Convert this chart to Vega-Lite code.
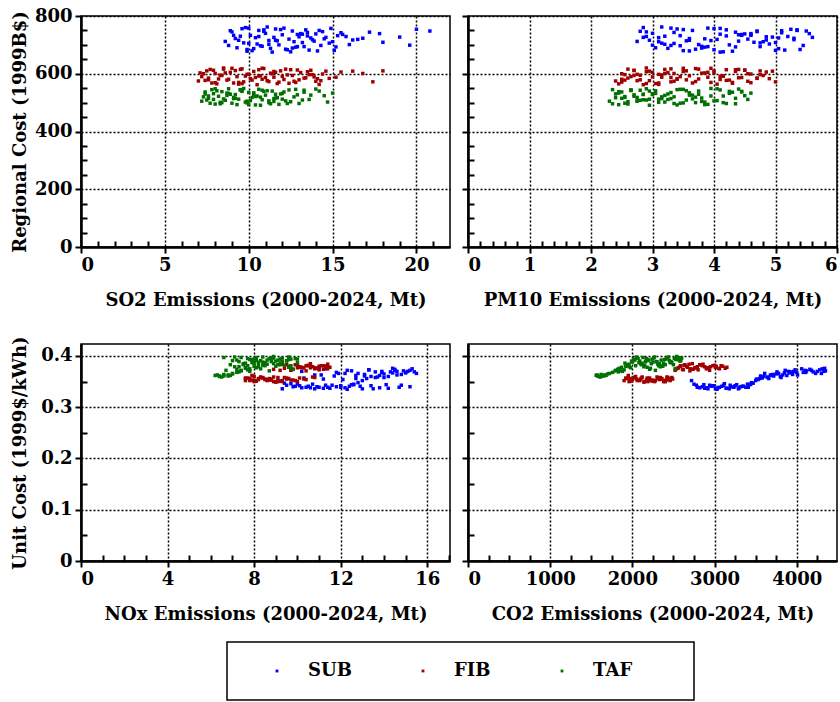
{
"$schema": "https://vega.github.io/schema/vega-lite/v6.json",
"background": "white",
"padding": {"left": 10, "top": 6, "right": 0, "bottom": 0},
"datasets": {"d": [
{"g":"SUB","so2":8.6,"pm10":2.75,"nox":9.1,"co2":2720,"rc":712,"uc":0.352},
{"g":"SUB","so2":9.0,"pm10":2.9,"nox":9.5,"co2":2780,"rc":745,"uc":0.343},
{"g":"SUB","so2":9.3,"pm10":3.05,"nox":9.8,"co2":2850,"rc":690,"uc":0.340},
{"g":"SUB","so2":9.5,"pm10":3.2,"nox":10.2,"co2":2900,"rc":730,"uc":0.338},
{"g":"SUB","so2":9.8,"pm10":2.85,"nox":10.5,"co2":2960,"rc":760,"uc":0.341},
{"g":"SUB","so2":10.0,"pm10":3.35,"nox":10.8,"co2":3010,"rc":705,"uc":0.336},
{"g":"SUB","so2":10.2,"pm10":3.5,"nox":11.0,"co2":3060,"rc":680,"uc":0.339},
{"g":"SUB","so2":10.4,"pm10":3.1,"nox":11.3,"co2":3110,"rc":725,"uc":0.343},
{"g":"SUB","so2":10.6,"pm10":3.65,"nox":11.5,"co2":3150,"rc":750,"uc":0.337},
{"g":"SUB","so2":10.8,"pm10":3.8,"nox":11.8,"co2":3200,"rc":695,"uc":0.340},
{"g":"SUB","so2":11.0,"pm10":3.0,"nox":12.0,"co2":3250,"rc":740,"uc":0.342},
{"g":"SUB","so2":11.2,"pm10":3.95,"nox":12.2,"co2":3300,"rc":715,"uc":0.338},
{"g":"SUB","so2":11.4,"pm10":4.1,"nox":12.4,"co2":3350,"rc":675,"uc":0.341},
{"g":"SUB","so2":11.6,"pm10":3.4,"nox":12.6,"co2":3400,"rc":755,"uc":0.345},
{"g":"SUB","so2":11.8,"pm10":4.25,"nox":12.8,"co2":3450,"rc":700,"uc":0.348},
{"g":"SUB","so2":12.0,"pm10":4.4,"nox":13.0,"co2":3500,"rc":735,"uc":0.352},
{"g":"SUB","so2":12.2,"pm10":3.7,"nox":13.2,"co2":3550,"rc":685,"uc":0.356},
{"g":"SUB","so2":12.4,"pm10":4.55,"nox":13.4,"co2":3600,"rc":720,"uc":0.360},
{"g":"SUB","so2":12.6,"pm10":4.7,"nox":13.6,"co2":3650,"rc":748,"uc":0.358},
{"g":"SUB","so2":12.8,"pm10":3.85,"nox":13.8,"co2":3700,"rc":692,"uc":0.362},
{"g":"SUB","so2":13.0,"pm10":4.85,"nox":14.0,"co2":3750,"rc":728,"uc":0.365},
{"g":"SUB","so2":13.2,"pm10":5.0,"nox":14.2,"co2":3800,"rc":708,"uc":0.360},
{"g":"SUB","so2":13.4,"pm10":4.2,"nox":14.4,"co2":3850,"rc":752,"uc":0.367},
{"g":"SUB","so2":13.6,"pm10":5.15,"nox":14.6,"co2":3900,"rc":682,"uc":0.370},
{"g":"SUB","so2":13.8,"pm10":5.3,"nox":14.8,"co2":3950,"rc":718,"uc":0.364},
{"g":"SUB","so2":14.0,"pm10":4.5,"nox":15.0,"co2":4000,"rc":738,"uc":0.368},
{"g":"SUB","so2":14.3,"pm10":5.45,"nox":15.2,"co2":4100,"rc":698,"uc":0.372},
{"g":"SUB","so2":14.6,"pm10":5.6,"nox":15.4,"co2":4200,"rc":726,"uc":0.369},
{"g":"SUB","so2":15.0,"pm10":4.8,"nox":15.5,"co2":4300,"rc":711,"uc":0.366},
{"g":"SUB","so2":15.5,"pm10":5.1,"nox":12.5,"co2":4350,"rc":742,"uc":0.371},
{"g":"SUB","so2":8.8,"pm10":3.3,"nox":10.0,"co2":2750,"rc":698,"uc":0.345},
{"g":"SUB","so2":9.2,"pm10":3.6,"nox":10.6,"co2":2820,"rc":722,"uc":0.338},
{"g":"SUB","so2":9.6,"pm10":4.0,"nox":11.2,"co2":2880,"rc":756,"uc":0.337},
{"g":"SUB","so2":9.9,"pm10":4.3,"nox":11.6,"co2":2940,"rc":678,"uc":0.343},
{"g":"SUB","so2":10.1,"pm10":4.6,"nox":12.3,"co2":3030,"rc":733,"uc":0.335},
{"g":"SUB","so2":10.5,"pm10":4.9,"nox":12.9,"co2":3090,"rc":703,"uc":0.341},
{"g":"SUB","so2":10.9,"pm10":2.8,"nox":13.5,"co2":3180,"rc":747,"uc":0.336},
{"g":"SUB","so2":11.3,"pm10":3.25,"nox":14.1,"co2":3270,"rc":688,"uc":0.344},
{"g":"SUB","so2":11.7,"pm10":3.55,"nox":14.7,"co2":3380,"rc":714,"uc":0.339},
{"g":"SUB","so2":12.1,"pm10":3.9,"nox":9.4,"co2":3470,"rc":758,"uc":0.347},
{"g":"SUB","so2":12.5,"pm10":4.15,"nox":10.3,"co2":3580,"rc":676,"uc":0.357},
{"g":"SUB","so2":12.9,"pm10":4.45,"nox":11.1,"co2":3680,"rc":736,"uc":0.363},
{"g":"SUB","so2":13.3,"pm10":4.75,"nox":11.9,"co2":3780,"rc":694,"uc":0.366},
{"g":"SUB","so2":13.7,"pm10":5.05,"nox":12.7,"co2":3880,"rc":724,"uc":0.362},
{"g":"SUB","so2":14.2,"pm10":5.35,"nox":13.3,"co2":3980,"rc":750,"uc":0.373},
{"g":"SUB","so2":14.8,"pm10":3.15,"nox":13.9,"co2":4080,"rc":706,"uc":0.368},
{"g":"SUB","so2":15.3,"pm10":3.45,"nox":14.5,"co2":4160,"rc":732,"uc":0.374},
{"g":"SUB","so2":16.0,"pm10":3.75,"nox":15.1,"co2":4250,"rc":701,"uc":0.370},
{"g":"SUB","so2":16.5,"pm10":4.05,"nox":9.7,"co2":3120,"rc":719,"uc":0.346},
{"g":"SUB","so2":17.2,"pm10":4.35,"nox":10.9,"co2":3320,"rc":744,"uc":0.340},
{"g":"SUB","so2":18.0,"pm10":4.65,"nox":12.1,"co2":3530,"rc":709,"uc":0.354},
{"g":"SUB","so2":19.0,"pm10":4.95,"nox":13.1,"co2":3720,"rc":727,"uc":0.361},
{"g":"SUB","so2":20.0,"pm10":5.25,"nox":14.3,"co2":3920,"rc":754,"uc":0.369},
{"g":"SUB","so2":20.8,"pm10":5.5,"nox":14.9,"co2":4120,"rc":748,"uc":0.371},
{"g":"SUB","so2":11.1,"pm10":3.15,"nox":10.1,"co2":2990,"rc":762,"uc":0.342},
{"g":"SUB","so2":12.3,"pm10":4.0,"nox":11.4,"co2":3230,"rc":683,"uc":0.339},
{"g":"SUB","so2":13.1,"pm10":4.6,"nox":12.6,"co2":3430,"rc":739,"uc":0.344},
{"g":"SUB","so2":9.4,"pm10":2.95,"nox":13.7,"co2":3640,"rc":716,"uc":0.359},
{"g":"SUB","so2":10.7,"pm10":3.45,"nox":14.6,"co2":3830,"rc":697,"uc":0.363},
{"g":"SUB","so2":15.8,"pm10":5.2,"nox":15.3,"co2":4310,"rc":729,"uc":0.375},
{"g":"SUB","so2":9.1,"pm10":4.45,"nox":12.0,"co2":2790,"rc":733,"uc":0.339},
{"g":"SUB","so2":9.7,"pm10":4.75,"nox":12.5,"co2":2870,"rc":707,"uc":0.344},
{"g":"SUB","so2":10.3,"pm10":5.05,"nox":13.0,"co2":2920,"rc":687,"uc":0.336},
{"g":"SUB","so2":10.9,"pm10":5.35,"nox":13.4,"co2":2980,"rc":752,"uc":0.342},
{"g":"SUB","so2":11.5,"pm10":2.85,"nox":13.8,"co2":3040,"rc":726,"uc":0.338},
{"g":"SUB","so2":12.7,"pm10":3.1,"nox":14.2,"co2":3140,"rc":711,"uc":0.337},
{"g":"SUB","so2":13.5,"pm10":3.35,"nox":14.8,"co2":3190,"rc":743,"uc":0.343},
{"g":"SUB","so2":14.1,"pm10":3.6,"nox":15.2,"co2":3240,"rc":679,"uc":0.340},
{"g":"SUB","so2":14.5,"pm10":3.85,"nox":9.3,"co2":3290,"rc":721,"uc":0.336},
{"g":"SUB","so2":14.9,"pm10":4.1,"nox":9.9,"co2":3340,"rc":757,"uc":0.341},
{"g":"SUB","so2":15.2,"pm10":4.35,"nox":10.4,"co2":3410,"rc":693,"uc":0.339},
{"g":"SUB","so2":15.6,"pm10":4.6,"nox":10.7,"co2":3440,"rc":736,"uc":0.345},
{"g":"SUB","so2":16.2,"pm10":4.85,"nox":11.2,"co2":3510,"rc":717,"uc":0.355},
{"g":"SUB","so2":8.9,"pm10":5.1,"nox":11.7,"co2":3560,"rc":749,"uc":0.361},
{"g":"SUB","so2":9.9,"pm10":5.4,"nox":12.2,"co2":3610,"rc":684,"uc":0.366},
{"g":"SUB","so2":10.6,"pm10":2.9,"nox":12.7,"co2":3660,"rc":729,"uc":0.356},
{"g":"SUB","so2":11.2,"pm10":3.2,"nox":13.1,"co2":3710,"rc":702,"uc":0.364},
{"g":"SUB","so2":11.9,"pm10":3.5,"nox":13.6,"co2":3760,"rc":753,"uc":0.369},
{"g":"SUB","so2":12.6,"pm10":3.8,"nox":14.0,"co2":3810,"rc":689,"uc":0.358},
{"g":"SUB","so2":13.2,"pm10":4.1,"nox":14.5,"co2":3860,"rc":737,"uc":0.372},
{"g":"SUB","so2":13.9,"pm10":4.4,"nox":15.0,"co2":3910,"rc":713,"uc":0.367},
{"g":"SUB","so2":14.4,"pm10":4.7,"nox":10.2,"co2":3960,"rc":746,"uc":0.370},
{"g":"SUB","so2":15.1,"pm10":5.0,"nox":10.8,"co2":4010,"rc":681,"uc":0.363},
{"g":"SUB","so2":16.8,"pm10":5.3,"nox":11.3,"co2":4060,"rc":723,"uc":0.375},
{"g":"SUB","so2":17.8,"pm10":5.55,"nox":11.8,"co2":4110,"rc":739,"uc":0.368},
{"g":"SUB","so2":19.6,"pm10":3.0,"nox":12.3,"co2":4180,"rc":699,"uc":0.372},
{"g":"SUB","so2":10.0,"pm10":3.3,"nox":12.8,"co2":4230,"rc":758,"uc":0.366},
{"g":"SUB","so2":11.6,"pm10":3.6,"nox":13.3,"co2":4280,"rc":716,"uc":0.373},
{"g":"SUB","so2":12.9,"pm10":3.9,"nox":13.9,"co2":4330,"rc":694,"uc":0.370},
{"g":"SUB","so2":13.5,"pm10":4.2,"nox":14.4,"co2":4340,"rc":731,"uc":0.376},
{"g":"FIB","so2":7.0,"pm10":2.4,"nox":7.6,"co2":1900,"rc":575,"uc":0.352},
{"g":"FIB","so2":7.3,"pm10":2.5,"nox":7.8,"co2":1930,"rc":600,"uc":0.356},
{"g":"FIB","so2":7.6,"pm10":2.6,"nox":8.0,"co2":1960,"rc":585,"uc":0.350},
{"g":"FIB","so2":7.9,"pm10":2.7,"nox":8.2,"co2":2000,"rc":612,"uc":0.354},
{"g":"FIB","so2":8.1,"pm10":2.45,"nox":8.4,"co2":2030,"rc":565,"uc":0.358},
{"g":"FIB","so2":8.3,"pm10":2.8,"nox":8.6,"co2":2060,"rc":595,"uc":0.352},
{"g":"FIB","so2":8.5,"pm10":2.9,"nox":8.8,"co2":2100,"rc":620,"uc":0.355},
{"g":"FIB","so2":8.7,"pm10":2.55,"nox":9.0,"co2":2140,"rc":578,"uc":0.349},
{"g":"FIB","so2":8.9,"pm10":3.0,"nox":7.7,"co2":2180,"rc":605,"uc":0.357},
{"g":"FIB","so2":9.1,"pm10":3.1,"nox":7.9,"co2":2220,"rc":568,"uc":0.353},
{"g":"FIB","so2":9.3,"pm10":2.65,"nox":8.1,"co2":2260,"rc":590,"uc":0.351},
{"g":"FIB","so2":9.5,"pm10":3.2,"nox":8.3,"co2":2300,"rc":615,"uc":0.359},
{"g":"FIB","so2":9.7,"pm10":3.3,"nox":8.5,"co2":2330,"rc":572,"uc":0.354},
{"g":"FIB","so2":9.9,"pm10":2.75,"nox":8.7,"co2":2360,"rc":598,"uc":0.356},
{"g":"FIB","so2":10.1,"pm10":3.4,"nox":8.9,"co2":2400,"rc":583,"uc":0.350},
{"g":"FIB","so2":10.3,"pm10":3.5,"nox":9.1,"co2":2430,"rc":608,"uc":0.358},
{"g":"FIB","so2":10.5,"pm10":2.85,"nox":9.3,"co2":2460,"rc":562,"uc":0.352},
{"g":"FIB","so2":10.7,"pm10":3.6,"nox":9.5,"co2":2490,"rc":593,"uc":0.355},
{"g":"FIB","so2":10.9,"pm10":3.7,"nox":9.2,"co2":2520,"rc":618,"uc":0.372},
{"g":"FIB","so2":11.1,"pm10":2.95,"nox":9.4,"co2":2550,"rc":576,"uc":0.376},
{"g":"FIB","so2":11.3,"pm10":3.8,"nox":9.6,"co2":2580,"rc":602,"uc":0.380},
{"g":"FIB","so2":11.5,"pm10":3.9,"nox":9.8,"co2":2610,"rc":588,"uc":0.374},
{"g":"FIB","so2":11.7,"pm10":3.05,"nox":10.0,"co2":2640,"rc":566,"uc":0.383},
{"g":"FIB","so2":11.9,"pm10":4.0,"nox":10.2,"co2":2670,"rc":610,"uc":0.378},
{"g":"FIB","so2":12.1,"pm10":4.1,"nox":10.4,"co2":2700,"rc":580,"uc":0.371},
{"g":"FIB","so2":12.3,"pm10":3.15,"nox":10.6,"co2":2730,"rc":596,"uc":0.385},
{"g":"FIB","so2":12.5,"pm10":4.2,"nox":10.8,"co2":2760,"rc":614,"uc":0.377},
{"g":"FIB","so2":12.8,"pm10":4.3,"nox":11.0,"co2":2800,"rc":570,"uc":0.373},
{"g":"FIB","so2":13.1,"pm10":3.25,"nox":11.2,"co2":2850,"rc":604,"uc":0.381},
{"g":"FIB","so2":13.4,"pm10":4.4,"nox":11.4,"co2":2900,"rc":586,"uc":0.375},
{"g":"FIB","so2":13.7,"pm10":4.5,"nox":10.1,"co2":2950,"rc":612,"uc":0.379},
{"g":"FIB","so2":14.0,"pm10":3.35,"nox":10.5,"co2":3000,"rc":574,"uc":0.382},
{"g":"FIB","so2":14.4,"pm10":4.6,"nox":10.9,"co2":3050,"rc":599,"uc":0.376},
{"g":"FIB","so2":14.8,"pm10":4.7,"nox":11.3,"co2":3100,"rc":584,"uc":0.380},
{"g":"FIB","so2":15.5,"pm10":4.85,"nox":11.5,"co2":3150,"rc":606,"uc":0.378},
{"g":"FIB","so2":16.2,"pm10":4.95,"nox":9.7,"co2":2620,"rc":609,"uc":0.373},
{"g":"FIB","so2":17.4,"pm10":5.0,"nox":10.3,"co2":2780,"rc":572,"uc":0.377},
{"g":"FIB","so2":18.0,"pm10":4.75,"nox":10.7,"co2":2880,"rc":610,"uc":0.379},
{"g":"FIB","so2":7.2,"pm10":3.45,"nox":8.0,"co2":2040,"rc":590,"uc":0.360},
{"g":"FIB","so2":7.5,"pm10":3.55,"nox":8.4,"co2":2110,"rc":610,"uc":0.357},
{"g":"FIB","so2":7.8,"pm10":3.65,"nox":8.8,"co2":2170,"rc":568,"uc":0.353},
{"g":"FIB","so2":8.2,"pm10":3.75,"nox":9.2,"co2":2240,"rc":582,"uc":0.351},
{"g":"FIB","so2":8.6,"pm10":3.85,"nox":9.6,"co2":2310,"rc":603,"uc":0.356},
{"g":"FIB","so2":9.0,"pm10":3.95,"nox":10.0,"co2":2380,"rc":619,"uc":0.350},
{"g":"FIB","so2":9.4,"pm10":4.05,"nox":10.4,"co2":2440,"rc":564,"uc":0.354},
{"g":"FIB","so2":9.8,"pm10":4.15,"nox":10.8,"co2":2480,"rc":592,"uc":0.358},
{"g":"FIB","so2":10.2,"pm10":4.25,"nox":11.2,"co2":2530,"rc":578,"uc":0.374},
{"g":"FIB","so2":10.6,"pm10":4.35,"nox":7.9,"co2":1950,"rc":614,"uc":0.362},
{"g":"FIB","so2":11.0,"pm10":4.45,"nox":8.3,"co2":2010,"rc":587,"uc":0.358},
{"g":"FIB","so2":11.4,"pm10":4.55,"nox":8.7,"co2":2080,"rc":600,"uc":0.353},
{"g":"FIB","so2":11.8,"pm10":2.5,"nox":9.1,"co2":2150,"rc":571,"uc":0.350},
{"g":"FIB","so2":12.2,"pm10":2.6,"nox":9.5,"co2":2210,"rc":616,"uc":0.357},
{"g":"FIB","so2":12.6,"pm10":2.7,"nox":9.9,"co2":2280,"rc":594,"uc":0.352},
{"g":"FIB","so2":13.0,"pm10":2.8,"nox":10.3,"co2":2350,"rc":579,"uc":0.355},
{"g":"FIB","so2":13.5,"pm10":2.9,"nox":10.7,"co2":2420,"rc":607,"uc":0.359},
{"g":"FIB","so2":13.9,"pm10":3.0,"nox":11.1,"co2":2590,"rc":589,"uc":0.381},
{"g":"FIB","so2":14.2,"pm10":3.1,"nox":11.4,"co2":2690,"rc":563,"uc":0.384},
{"g":"FIB","so2":8.0,"pm10":3.2,"nox":9.9,"co2":2820,"rc":601,"uc":0.383},
{"g":"FIB","so2":9.6,"pm10":3.3,"nox":10.6,"co2":2930,"rc":617,"uc":0.377},
{"g":"FIB","so2":10.8,"pm10":3.4,"nox":11.0,"co2":3020,"rc":581,"uc":0.380},
{"g":"FIB","so2":7.1,"pm10":4.0,"nox":7.6,"co2":1920,"rc":603,"uc":0.357},
{"g":"FIB","so2":7.4,"pm10":4.2,"nox":8.1,"co2":1990,"rc":577,"uc":0.351},
{"g":"FIB","so2":7.7,"pm10":4.4,"nox":8.5,"co2":2050,"rc":615,"uc":0.355},
{"g":"FIB","so2":8.0,"pm10":4.6,"nox":8.9,"co2":2120,"rc":569,"uc":0.359},
{"g":"FIB","so2":8.4,"pm10":4.8,"nox":9.3,"co2":2190,"rc":594,"uc":0.350},
{"g":"FIB","so2":8.8,"pm10":2.5,"nox":9.7,"co2":2250,"rc":581,"uc":0.353},
{"g":"FIB","so2":9.2,"pm10":2.7,"nox":10.1,"co2":2320,"rc":611,"uc":0.357},
{"g":"FIB","so2":9.6,"pm10":2.9,"nox":7.8,"co2":2390,"rc":566,"uc":0.352},
{"g":"FIB","so2":10.0,"pm10":3.1,"nox":8.2,"co2":2450,"rc":598,"uc":0.356},
{"g":"FIB","so2":10.4,"pm10":3.3,"nox":8.6,"co2":2210,"rc":587,"uc":0.354},
{"g":"FIB","so2":10.8,"pm10":3.5,"nox":9.0,"co2":2270,"rc":619,"uc":0.350},
{"g":"FIB","so2":11.2,"pm10":3.7,"nox":9.4,"co2":2340,"rc":573,"uc":0.358},
{"g":"FIB","so2":11.6,"pm10":3.9,"nox":9.8,"co2":2410,"rc":605,"uc":0.353},
{"g":"FIB","so2":12.0,"pm10":4.1,"nox":10.2,"co2":2560,"rc":591,"uc":0.377},
{"g":"FIB","so2":12.4,"pm10":4.3,"nox":10.6,"co2":2630,"rc":567,"uc":0.382},
{"g":"FIB","so2":12.9,"pm10":4.5,"nox":11.0,"co2":2710,"rc":613,"uc":0.375},
{"g":"FIB","so2":13.3,"pm10":4.7,"nox":11.4,"co2":2790,"rc":585,"uc":0.379},
{"g":"FIB","so2":13.8,"pm10":2.55,"nox":9.3,"co2":2860,"rc":597,"uc":0.384},
{"g":"FIB","so2":14.3,"pm10":2.75,"nox":9.7,"co2":2940,"rc":576,"uc":0.372},
{"g":"FIB","so2":14.6,"pm10":2.95,"nox":10.1,"co2":3010,"rc":609,"uc":0.378},
{"g":"FIB","so2":15.2,"pm10":3.15,"nox":10.5,"co2":3080,"rc":588,"uc":0.381},
{"g":"FIB","so2":16.8,"pm10":3.35,"nox":10.9,"co2":3130,"rc":601,"uc":0.376},
{"g":"FIB","so2":7.6,"pm10":3.55,"nox":11.3,"co2":2660,"rc":579,"uc":0.380},
{"g":"FIB","so2":8.5,"pm10":3.75,"nox":8.9,"co2":2740,"rc":616,"uc":0.374},
{"g":"FIB","so2":9.4,"pm10":3.95,"nox":9.5,"co2":2830,"rc":570,"uc":0.383},
{"g":"FIB","so2":10.6,"pm10":4.15,"nox":10.0,"co2":2910,"rc":592,"uc":0.377},
{"g":"FIB","so2":11.5,"pm10":4.35,"nox":10.4,"co2":2980,"rc":608,"uc":0.381},
{"g":"FIB","so2":12.7,"pm10":4.55,"nox":10.8,"co2":3060,"rc":574,"uc":0.375},
{"g":"FIB","so2":13.6,"pm10":4.75,"nox":7.6,"co2":1970,"rc":597,"uc":0.356},
{"g":"FIB","so2":14.1,"pm10":4.9,"nox":8.0,"co2":2090,"rc":583,"uc":0.352},
{"g":"TAF","so2":7.2,"pm10":2.3,"nox":6.2,"co2":1560,"rc":505,"uc":0.362},
{"g":"TAF","so2":7.4,"pm10":2.4,"nox":6.4,"co2":1590,"rc":530,"uc":0.360},
{"g":"TAF","so2":7.6,"pm10":2.5,"nox":6.6,"co2":1620,"rc":515,"uc":0.364},
{"g":"TAF","so2":7.8,"pm10":2.35,"nox":6.8,"co2":1650,"rc":545,"uc":0.361},
{"g":"TAF","so2":8.0,"pm10":2.6,"nox":7.0,"co2":1700,"rc":495,"uc":0.365},
{"g":"TAF","so2":8.2,"pm10":2.7,"nox":7.2,"co2":1760,"rc":522,"uc":0.368},
{"g":"TAF","so2":8.4,"pm10":2.45,"nox":7.4,"co2":1800,"rc":538,"uc":0.372},
{"g":"TAF","so2":8.6,"pm10":2.8,"nox":7.6,"co2":1840,"rc":508,"uc":0.376},
{"g":"TAF","so2":8.8,"pm10":2.9,"nox":7.8,"co2":1880,"rc":548,"uc":0.370},
{"g":"TAF","so2":9.0,"pm10":2.55,"nox":8.0,"co2":1920,"rc":498,"uc":0.380},
{"g":"TAF","so2":9.2,"pm10":3.0,"nox":8.2,"co2":1960,"rc":528,"uc":0.384},
{"g":"TAF","so2":9.4,"pm10":3.1,"nox":8.4,"co2":2000,"rc":512,"uc":0.388},
{"g":"TAF","so2":9.6,"pm10":2.65,"nox":8.6,"co2":2030,"rc":542,"uc":0.392},
{"g":"TAF","so2":9.8,"pm10":3.2,"nox":8.8,"co2":2060,"rc":502,"uc":0.396},
{"g":"TAF","so2":10.0,"pm10":3.3,"nox":9.0,"co2":2090,"rc":535,"uc":0.390},
{"g":"TAF","so2":10.2,"pm10":2.75,"nox":9.2,"co2":2120,"rc":518,"uc":0.386},
{"g":"TAF","so2":10.4,"pm10":3.4,"nox":9.4,"co2":2150,"rc":492,"uc":0.382},
{"g":"TAF","so2":10.6,"pm10":3.5,"nox":9.6,"co2":2180,"rc":546,"uc":0.378},
{"g":"TAF","so2":10.8,"pm10":2.85,"nox":9.8,"co2":2210,"rc":510,"uc":0.374},
{"g":"TAF","so2":11.0,"pm10":3.6,"nox":10.0,"co2":2240,"rc":526,"uc":0.394},
{"g":"TAF","so2":11.2,"pm10":3.7,"nox":7.1,"co2":2270,"rc":500,"uc":0.398},
{"g":"TAF","so2":11.4,"pm10":2.95,"nox":7.3,"co2":2300,"rc":540,"uc":0.389},
{"g":"TAF","so2":11.6,"pm10":3.8,"nox":7.5,"co2":2330,"rc":516,"uc":0.385},
{"g":"TAF","so2":11.8,"pm10":3.9,"nox":7.7,"co2":2360,"rc":494,"uc":0.381},
{"g":"TAF","so2":12.0,"pm10":3.05,"nox":7.9,"co2":2390,"rc":532,"uc":0.393},
{"g":"TAF","so2":12.2,"pm10":4.0,"nox":8.1,"co2":2420,"rc":506,"uc":0.397},
{"g":"TAF","so2":12.4,"pm10":4.1,"nox":8.3,"co2":2450,"rc":544,"uc":0.391},
{"g":"TAF","so2":12.7,"pm10":3.15,"nox":8.5,"co2":2480,"rc":520,"uc":0.387},
{"g":"TAF","so2":13.0,"pm10":4.2,"nox":8.7,"co2":2510,"rc":497,"uc":0.395},
{"g":"TAF","so2":13.3,"pm10":4.3,"nox":8.9,"co2":2540,"rc":536,"uc":0.399},
{"g":"TAF","so2":13.6,"pm10":3.25,"nox":9.1,"co2":2570,"rc":511,"uc":0.392},
{"g":"TAF","so2":14.0,"pm10":4.4,"nox":9.3,"co2":2600,"rc":547,"uc":0.396},
{"g":"TAF","so2":14.5,"pm10":4.5,"nox":9.5,"co2":2580,"rc":524,"uc":0.390},
{"g":"TAF","so2":15.0,"pm10":4.6,"nox":9.7,"co2":2550,"rc":533,"uc":0.394},
{"g":"TAF","so2":7.3,"pm10":3.35,"nox":6.5,"co2":1610,"rc":520,"uc":0.359},
{"g":"TAF","so2":7.7,"pm10":3.45,"nox":6.9,"co2":1680,"rc":498,"uc":0.362},
{"g":"TAF","so2":8.1,"pm10":3.55,"nox":7.3,"co2":1830,"rc":541,"uc":0.369},
{"g":"TAF","so2":8.5,"pm10":3.65,"nox":7.7,"co2":1900,"rc":513,"uc":0.373},
{"g":"TAF","so2":8.9,"pm10":3.75,"nox":8.1,"co2":1980,"rc":529,"uc":0.377},
{"g":"TAF","so2":9.3,"pm10":3.85,"nox":8.5,"co2":2040,"rc":493,"uc":0.381},
{"g":"TAF","so2":9.7,"pm10":3.95,"nox":8.9,"co2":2100,"rc":549,"uc":0.385},
{"g":"TAF","so2":10.1,"pm10":4.05,"nox":9.3,"co2":2160,"rc":507,"uc":0.389},
{"g":"TAF","so2":10.5,"pm10":4.15,"nox":9.7,"co2":2220,"rc":523,"uc":0.376},
{"g":"TAF","so2":10.9,"pm10":4.25,"nox":6.7,"co2":2280,"rc":539,"uc":0.372},
{"g":"TAF","so2":11.3,"pm10":4.35,"nox":7.1,"co2":2340,"rc":496,"uc":0.379},
{"g":"TAF","so2":11.7,"pm10":2.4,"nox":7.5,"co2":2400,"rc":517,"uc":0.383},
{"g":"TAF","so2":12.1,"pm10":2.5,"nox":7.9,"co2":2460,"rc":537,"uc":0.387},
{"g":"TAF","so2":12.5,"pm10":2.6,"nox":8.3,"co2":2520,"rc":503,"uc":0.375},
{"g":"TAF","so2":12.9,"pm10":2.7,"nox":8.7,"co2":1860,"rc":527,"uc":0.371},
{"g":"TAF","so2":13.3,"pm10":2.8,"nox":9.1,"co2":1940,"rc":543,"uc":0.383},
{"g":"TAF","so2":7.5,"pm10":2.9,"nox":9.5,"co2":2010,"rc":509,"uc":0.391},
{"g":"TAF","so2":7.9,"pm10":3.0,"nox":9.9,"co2":2070,"rc":531,"uc":0.395},
{"g":"TAF","so2":8.3,"pm10":3.1,"nox":6.3,"co2":1570,"rc":501,"uc":0.363},
{"g":"TAF","so2":8.7,"pm10":3.2,"nox":6.6,"co2":1630,"rc":525,"uc":0.361},
{"g":"TAF","so2":9.1,"pm10":3.3,"nox":7.0,"co2":1720,"rc":514,"uc":0.366},
{"g":"TAF","so2":9.5,"pm10":3.4,"nox":7.4,"co2":2130,"rc":545,"uc":0.397},
{"g":"TAF","so2":9.9,"pm10":3.5,"nox":7.8,"co2":2190,"rc":499,"uc":0.393},
{"g":"TAF","so2":10.3,"pm10":3.6,"nox":8.2,"co2":2250,"rc":534,"uc":0.388},
{"g":"TAF","so2":10.7,"pm10":3.7,"nox":8.6,"co2":2310,"rc":519,"uc":0.384},
{"g":"TAF","so2":11.5,"pm10":3.8,"nox":9.0,"co2":2370,"rc":504,"uc":0.380},
{"g":"TAF","so2":7.4,"pm10":4.45,"nox":6.4,"co2":1580,"rc":537,"uc":0.361},
{"g":"TAF","so2":7.9,"pm10":4.55,"nox":6.8,"co2":1660,"rc":511,"uc":0.363},
{"g":"TAF","so2":8.3,"pm10":2.35,"nox":7.2,"co2":1820,"rc":496,"uc":0.374},
{"g":"TAF","so2":8.7,"pm10":2.45,"nox":7.6,"co2":1870,"rc":533,"uc":0.378},
{"g":"TAF","so2":9.1,"pm10":2.55,"nox":8.0,"co2":1910,"rc":518,"uc":0.386},
{"g":"TAF","so2":9.5,"pm10":2.65,"nox":8.4,"co2":1950,"rc":544,"uc":0.382},
{"g":"TAF","so2":9.9,"pm10":2.75,"nox":8.8,"co2":1990,"rc":505,"uc":0.390},
{"g":"TAF","so2":10.3,"pm10":2.85,"nox":9.2,"co2":2020,"rc":528,"uc":0.394},
{"g":"TAF","so2":10.7,"pm10":2.95,"nox":9.6,"co2":2050,"rc":491,"uc":0.398},
{"g":"TAF","so2":11.1,"pm10":3.05,"nox":10.0,"co2":2080,"rc":541,"uc":0.387},
{"g":"TAF","so2":11.5,"pm10":3.15,"nox":6.9,"co2":2110,"rc":514,"uc":0.383},
{"g":"TAF","so2":11.9,"pm10":3.25,"nox":7.3,"co2":2140,"rc":530,"uc":0.379},
{"g":"TAF","so2":12.3,"pm10":3.35,"nox":7.7,"co2":2170,"rc":497,"uc":0.395},
{"g":"TAF","so2":12.8,"pm10":3.45,"nox":8.1,"co2":2200,"rc":546,"uc":0.391},
{"g":"TAF","so2":13.2,"pm10":3.55,"nox":8.5,"co2":2230,"rc":509,"uc":0.385},
{"g":"TAF","so2":13.7,"pm10":3.65,"nox":8.9,"co2":2260,"rc":526,"uc":0.396},
{"g":"TAF","so2":14.2,"pm10":3.75,"nox":9.3,"co2":2290,"rc":540,"uc":0.389},
{"g":"TAF","so2":14.7,"pm10":3.85,"nox":9.7,"co2":2320,"rc":502,"uc":0.381},
{"g":"TAF","so2":7.6,"pm10":3.95,"nox":7.2,"co2":2350,"rc":523,"uc":0.392},
{"g":"TAF","so2":8.0,"pm10":4.05,"nox":7.6,"co2":2380,"rc":548,"uc":0.386},
{"g":"TAF","so2":8.4,"pm10":4.15,"nox":8.0,"co2":2410,"rc":500,"uc":0.394},
{"g":"TAF","so2":8.8,"pm10":4.25,"nox":8.4,"co2":2440,"rc":532,"uc":0.398},
{"g":"TAF","so2":9.2,"pm10":4.35,"nox":8.8,"co2":2470,"rc":515,"uc":0.389},
{"g":"TAF","so2":9.6,"pm10":4.45,"nox":9.2,"co2":2500,"rc":539,"uc":0.383},
{"g":"TAF","so2":10.0,"pm10":2.45,"nox":9.6,"co2":2530,"rc":493,"uc":0.393},
{"g":"TAF","so2":10.4,"pm10":2.55,"nox":6.6,"co2":2560,"rc":521,"uc":0.397},
{"g":"TAF","so2":10.8,"pm10":2.65,"nox":7.0,"co2":2590,"rc":543,"uc":0.391},
{"g":"TAF","so2":11.2,"pm10":2.75,"nox":7.4,"co2":1790,"rc":506,"uc":0.371},
{"g":"TAF","so2":11.6,"pm10":2.85,"nox":7.8,"co2":1850,"rc":529,"uc":0.375},
{"g":"TAF","so2":12.0,"pm10":2.95,"nox":8.2,"co2":1960,"rc":512,"uc":0.379}
]},
"data": {"name": "d"},
"config": {
  "font": "DejaVu Serif",
  "view": {"stroke": "black", "strokeWidth": 1.5},
  "axis": {
    "labelFont": "DejaVu Serif", "labelFontSize": 18, "labelFontWeight": "bold", "labelColor": "black", "labelPadding": 3,
    "titleFont": "DejaVu Serif", "titleFontSize": 18, "titleFontWeight": "bold", "titleColor": "black",
    "domainColor": "black", "domainWidth": 2.5, "tickColor": "black", "tickWidth": 2, "tickSize": 6,
    "gridColor": "black", "gridDash": [2, 2], "gridOpacity": 1, "gridWidth": 1.5
  },
  "axisX": {"titlePadding": 17},
  "axisY": {"titlePadding": 8},
  "legend": {
    "orient": "none", "legendX": 146, "legendY": 626, "direction": "horizontal",
    "strokeColor": "black", "strokeWidth": 1.5, "padding": 20,
    "labelFont": "DejaVu Serif", "labelFontSize": 18, "labelFontWeight": "bold", "labelColor": "black",
    "symbolType": "square", "symbolSize": 8, "columnPadding": 41, "labelOffset": 22, "symbolOffset": 21,
    "titleOrient": "right", "titlePadding": 42, "titleFontSize": 18, "titleColor": "black"
  }
},
"spacing": 25,
"vconcat": [
  {"hconcat": [
    {"width": 369, "height": 231,
     "layer": [
      {"mark": {"type": "square", "size": 12, "opacity": 1},
       "encoding": {
         "x": {"field": "so2", "type": "quantitative", "scale": {"domain": [0, 22], "nice": false}, "axis": {"values": [0, 5, 10, 15, 20], "title": "SO2 Emissions (2000-2024, Mt)"}},
         "y": {"field": "rc", "type": "quantitative", "scale": {"domain": [0, 800], "nice": false}, "axis": {"values": [0, 200, 400, 600, 800], "title": "Regional Cost (1999B$)", "titleX": -52}},
         "color": {"field": "g", "type": "nominal", "scale": {"domain": ["SUB", "FIB", "TAF"], "range": ["#0000ff", "#a00000", "#007000"]}, "legend": {"title": "\u00a0"}}
       }},
      {"mark": {"type": "point", "opacity": 0},
       "encoding": {
         "x": {"field": "so2", "type": "quantitative", "axis": {"orient": "bottom", "values": [1,2,3,4,6,7,8,9,11,12,13,14,16,17,18,19,21], "labels": false, "grid": false, "domain": false, "title": null, "tickSize": -6}},
         "y": {"field": "rc", "type": "quantitative", "axis": {"orient": "left", "values": [50,100,150,250,300,350,450,500,550,650,700,750], "labels": false, "grid": false, "domain": false, "title": null, "tickSize": -6}}
       }}
     ],
     "resolve": {"axis": {"x": "independent", "y": "independent"}}
    },
    {"width": 369, "height": 231,
     "layer": [
      {"mark": {"type": "square", "size": 12, "opacity": 1},
       "encoding": {
         "x": {"field": "pm10", "type": "quantitative", "scale": {"domain": [0, 6], "nice": false}, "axis": {"values": [0, 1, 2, 3, 4, 5, 6], "title": "PM10 Emissions (2000-2024, Mt)"}},
         "y": {"field": "rc", "type": "quantitative", "scale": {"domain": [0, 800], "nice": false}, "axis": {"values": [0, 200, 400, 600, 800], "labels": false, "title": null}},
         "color": {"field": "g", "type": "nominal", "scale": {"domain": ["SUB", "FIB", "TAF"], "range": ["#0000ff", "#a00000", "#007000"]}, "legend": {"title": "\u00a0"}}
       }},
      {"mark": {"type": "point", "opacity": 0},
       "encoding": {
         "x": {"field": "pm10", "type": "quantitative", "axis": {"orient": "bottom", "values": [0.2,0.4,0.6,0.8,1.2,1.4,1.6,1.8,2.2,2.4,2.6,2.8,3.2,3.4,3.6,3.8,4.2,4.4,4.6,4.8,5.2,5.4,5.6,5.8], "labels": false, "grid": false, "domain": false, "title": null, "tickSize": -6}},
         "y": {"field": "rc", "type": "quantitative", "axis": {"orient": "left", "values": [50,100,150,250,300,350,450,500,550,650,700,750], "labels": false, "grid": false, "domain": false, "title": null, "tickSize": -6}}
       }}
     ],
     "resolve": {"axis": {"x": "independent", "y": "independent"}}
    }
  ], "spacing": 9},
  {"hconcat": [
    {"width": 369, "height": 217,
     "layer": [
      {"mark": {"type": "square", "size": 12, "opacity": 1},
       "encoding": {
         "x": {"field": "nox", "type": "quantitative", "scale": {"domain": [0, 17.05], "nice": false}, "axis": {"values": [0, 4, 8, 12, 16], "title": "NOx Emissions (2000-2024, Mt)"}},
         "y": {"field": "uc", "type": "quantitative", "scale": {"domain": [0, 0.4234], "nice": false}, "axis": {"values": [0, 0.1, 0.2, 0.3, 0.4], "format": "~g", "title": "Unit Cost (1999$/kWh)", "titleX": -52}},
         "color": {"field": "g", "type": "nominal", "scale": {"domain": ["SUB", "FIB", "TAF"], "range": ["#0000ff", "#a00000", "#007000"]}, "legend": {"title": "\u00a0"}}
       }},
      {"mark": {"type": "point", "opacity": 0},
       "encoding": {
         "x": {"field": "nox", "type": "quantitative", "axis": {"orient": "bottom", "values": [1,2,3,5,6,7,9,10,11,13,14,15,17], "labels": false, "grid": false, "domain": false, "title": null, "tickSize": -6}},
         "y": {"field": "uc", "type": "quantitative", "axis": {"orient": "left", "values": [0.05, 0.15, 0.25, 0.35], "labels": false, "grid": false, "domain": false, "title": null, "tickSize": -6}}
       }}
     ],
     "resolve": {"axis": {"x": "independent", "y": "independent"}}
    },
    {"width": 369, "height": 217,
     "layer": [
      {"mark": {"type": "square", "size": 12, "opacity": 1},
       "encoding": {
         "x": {"field": "co2", "type": "quantitative", "scale": {"domain": [0, 4490], "nice": false}, "axis": {"values": [0, 1000, 2000, 3000, 4000], "format": "d", "title": "CO2 Emissions (2000-2024, Mt)"}},
         "y": {"field": "uc", "type": "quantitative", "scale": {"domain": [0, 0.4234], "nice": false}, "axis": {"values": [0, 0.1, 0.2, 0.3, 0.4], "labels": false, "title": null}},
         "color": {"field": "g", "type": "nominal", "scale": {"domain": ["SUB", "FIB", "TAF"], "range": ["#0000ff", "#a00000", "#007000"]}, "legend": {"title": "\u00a0"}}
       }},
      {"mark": {"type": "point", "opacity": 0},
       "encoding": {
         "x": {"field": "co2", "type": "quantitative", "axis": {"orient": "bottom", "values": [250,500,750,1250,1500,1750,2250,2500,2750,3250,3500,3750,4250], "labels": false, "grid": false, "domain": false, "title": null, "tickSize": -6}},
         "y": {"field": "uc", "type": "quantitative", "axis": {"orient": "left", "values": [0.05, 0.15, 0.25, 0.35], "labels": false, "grid": false, "domain": false, "title": null, "tickSize": -6}}
       }}
     ],
     "resolve": {"axis": {"x": "independent", "y": "independent"}}
    }
  ], "spacing": 9}
]
}
